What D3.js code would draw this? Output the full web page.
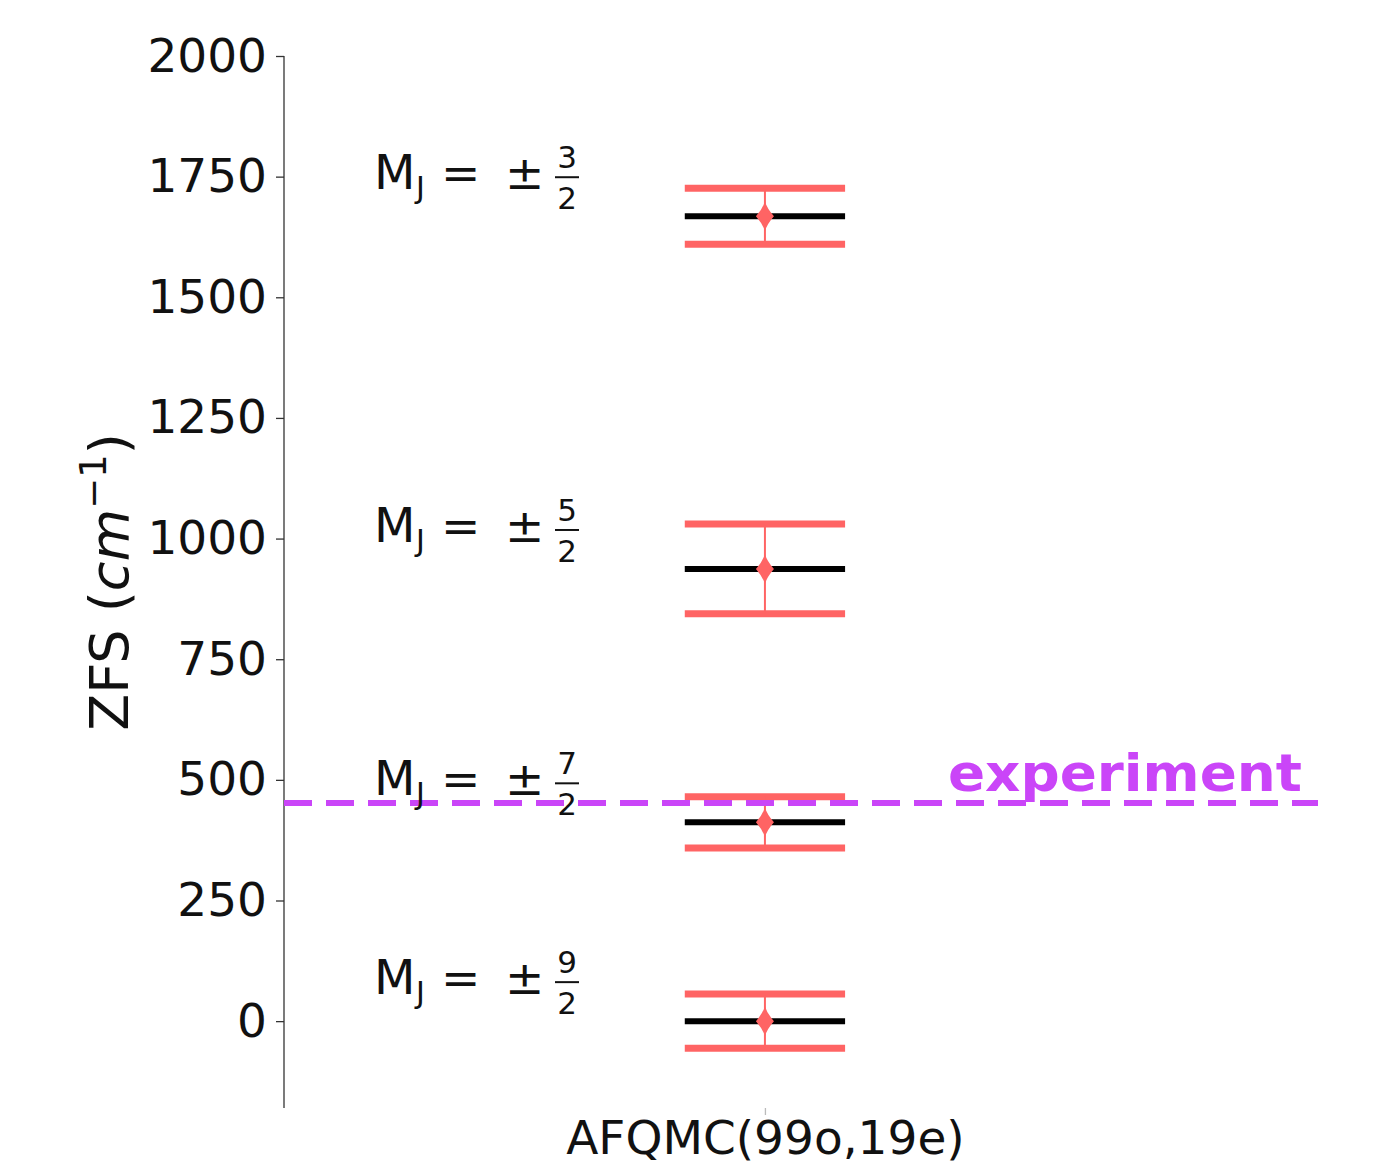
<!DOCTYPE html>
<html>
<head>
<meta charset="utf-8">
<script src="https://cdn.jsdelivr.net/npm/d3@7"></script>
<style>
  body { margin: 0; background: #fff; }
  svg { font-family: "DejaVu Sans", sans-serif; }
</style>
</head>
<body>
<svg class="chart" width="1382" height="1162"></svg>
<script>
// states and values
var states = ["9/2", "7/2", "5/2", "3/2"];
var numerators = ["9", "7", "5", "3"];
var zfs = [0, 412, 937, 1668];
var errors = [56, 53, 93, 58];
var methods = ["AFQMC(99o,19e)"];
var experimentValue = 452;
var yTicks = [0, 250, 500, 750, 1000, 1250, 1500, 1750, 2000];

var svg = d3.select(".chart");
var red = "#ff6464";
var purple = "#ca45f8";

var xScale = d3.scaleLinear().domain([-0.6, 0.69]).range([284, 1318]);
var yScale = d3.scaleLinear().domain([-180, 2000]).range([1108, 56]);
var halfWidth = 0.1;

// y axis (left spine only)
var yAxis = svg.append("g")
    .attr("transform", "translate(" + xScale(-0.6) + ",0)")
    .call(d3.axisLeft(yScale).tickValues(yTicks).tickSize(8).tickPadding(9).tickFormat(d3.format("d")));
yAxis.select(".domain").attr("stroke", "#333").attr("stroke-width", 1.3).attr("d", "M0," + yScale(2000) + "V" + yScale(-180));
yAxis.selectAll(".tick line").attr("stroke", "#333").attr("stroke-width", 1.3);
yAxis.selectAll(".tick text").attr("font-size", 47).attr("fill", "#111").attr("font-family", "DejaVu Sans");

// x axis: tick only, no spine
var xAxis = svg.append("g")
    .attr("transform", "translate(0," + yScale(-180) + ")")
    .call(d3.axisBottom(xScale).tickValues([0]).tickSize(7).tickPadding(4).tickFormat(function () { return methods[0]; }));
xAxis.select(".domain").remove();
xAxis.selectAll(".tick line").attr("stroke", "#bbb").attr("stroke-width", 1.3);
xAxis.selectAll(".tick text").attr("font-size", 47).attr("fill", "#111").attr("font-family", "DejaVu Sans").attr("dy", "0.75em");

// y label
var ylab = svg.append("text")
    .attr("transform", "translate(128," + 582 + ") rotate(-90)")
    .attr("text-anchor", "middle")
    .attr("font-size", 54)
    .attr("fill", "#111");
ylab.append("tspan").text("ZFS (");
ylab.append("tspan").attr("font-style", "italic").text("cm");
ylab.append("tspan").attr("font-size", 37).attr("dy", -22).text("\u22121");
ylab.append("tspan").attr("dy", 22).text(")");

var g = svg.append("g");

// red error bounds
g.selectAll(".err-hi")
    .data(zfs)
    .enter().append("line")
    .attr("x1", xScale(-halfWidth)).attr("x2", xScale(halfWidth))
    .attr("y1", function (d, i) { return yScale(d + errors[i]); })
    .attr("y2", function (d, i) { return yScale(d + errors[i]); })
    .attr("stroke", red).attr("stroke-width", 7);
g.selectAll(".err-lo")
    .data(zfs)
    .enter().append("line")
    .attr("x1", xScale(-halfWidth)).attr("x2", xScale(halfWidth))
    .attr("y1", function (d, i) { return yScale(d - errors[i]); })
    .attr("y2", function (d, i) { return yScale(d - errors[i]); })
    .attr("stroke", red).attr("stroke-width", 7);

// black level lines
g.selectAll(".level")
    .data(zfs)
    .enter().append("line")
    .attr("x1", xScale(-halfWidth)).attr("x2", xScale(halfWidth))
    .attr("y1", function (d) { return yScale(d); })
    .attr("y2", function (d) { return yScale(d); })
    .attr("stroke", "#000").attr("stroke-width", 6);

// vertical error bars
g.selectAll(".ebar")
    .data(zfs)
    .enter().append("line")
    .attr("x1", xScale(0)).attr("x2", xScale(0))
    .attr("y1", function (d, i) { return yScale(d + errors[i]); })
    .attr("y2", function (d, i) { return yScale(d - errors[i]); })
    .attr("stroke", red).attr("stroke-width", 2);

// diamond markers
g.selectAll(".marker")
    .data(zfs)
    .enter().append("path")
    .attr("transform", function (d) { return "translate(" + xScale(0) + "," + yScale(d) + ")"; })
    .attr("d", "M0,-15 Q2,-8 9,0 Q2,8 0,15 Q-2,8 -9,0 Q-2,-8 0,-15Z")
    .attr("fill", red);

// experiment line
svg.append("line")
    .attr("x1", xScale(-0.6)).attr("x2", xScale(0.69))
    .attr("y1", yScale(experimentValue)).attr("y2", yScale(experimentValue))
    .attr("stroke", purple).attr("stroke-width", 6)
    .attr("stroke-dasharray", "28,14");
svg.append("text")
    .attr("x", xScale(0.67)).attr("y", yScale(experimentValue) - 12)
    .attr("text-anchor", "end")
    .attr("font-size", 52).attr("font-weight", "bold")
    .attr("textLength", 354).attr("lengthAdjust", "spacingAndGlyphs")
    .attr("fill", purple)
    .text("experiment");

// M_J labels
var labels = svg.selectAll(".mj")
    .data(zfs)
    .enter().append("g")
    .attr("transform", function (d) { return "translate(374," + (yScale(d) - 42) + ")"; });
labels.append("text")
    .attr("font-size", 48).attr("fill", "#111")
    .attr("y", 15)
    .text("M");
labels.append("text")
    .attr("x", 42).attr("y", 24)
    .attr("font-size", 30).attr("fill", "#111")
    .text("J");
labels.append("text")
    .attr("x", 67).attr("y", 15)
    .attr("font-size", 47).attr("fill", "#111")
    .text("=");
labels.append("text")
    .attr("x", 131).attr("y", 15)
    .attr("font-size", 47).attr("fill", "#111")
    .text("\u00b1");
labels.append("text")
    .attr("x", 567).attr("y", -6)
    .attr("x", 193)
    .attr("text-anchor", "middle")
    .attr("font-size", 31).attr("fill", "#111")
    .text(function (d, i) { return numerators[i]; });
labels.append("line")
    .attr("x1", 181).attr("x2", 205)
    .attr("y1", 3).attr("y2", 3)
    .attr("stroke", "#111").attr("stroke-width", 2);
labels.append("text")
    .attr("x", 193).attr("y", 35)
    .attr("text-anchor", "middle")
    .attr("font-size", 31).attr("fill", "#111")
    .text("2");
</script>
</body>
</html>
